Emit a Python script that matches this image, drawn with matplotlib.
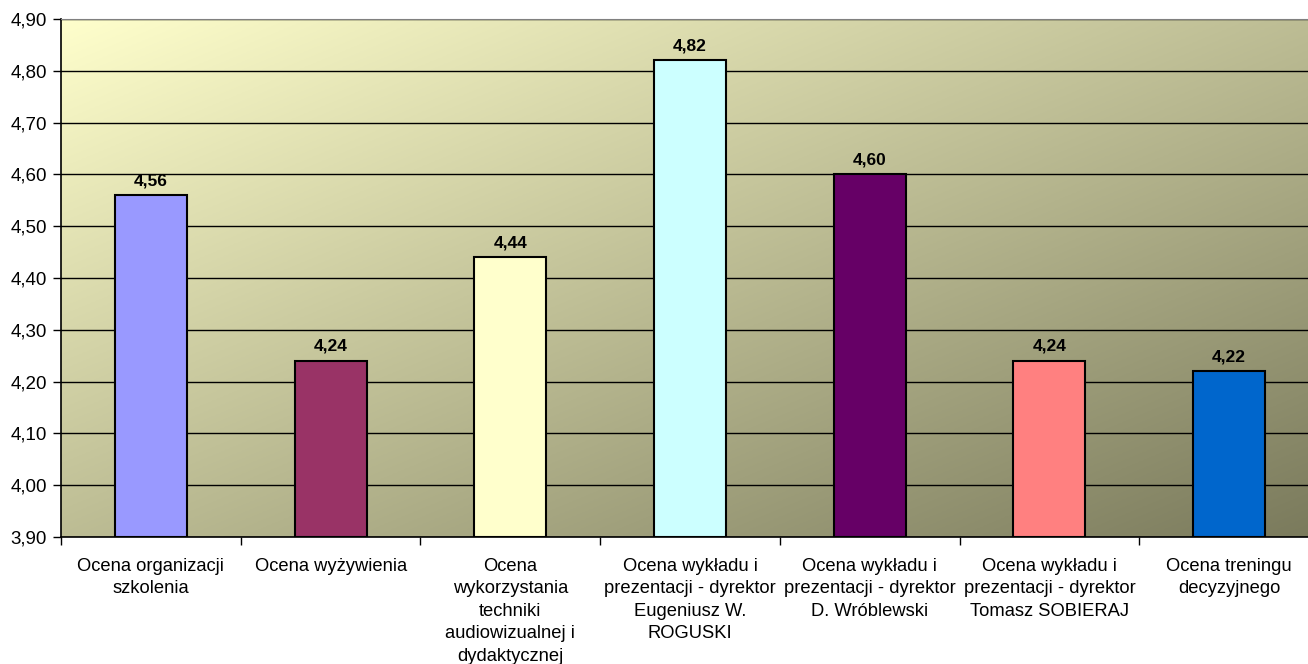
import numpy as np
import matplotlib.pyplot as plt
from matplotlib.ticker import FixedLocator, FuncFormatter

plt.rcParams['font.family'] = ['Liberation Sans', 'DejaVu Sans']

categories = ['Ocena organizacji\nszkolenia',
              'Ocena wyżywienia',
              'Ocena\nwykorzystania\ntechniki\naudiowizualnej i\ndydaktycznej',
              'Ocena wykładu i\nprezentacji - dyrektor\nEugeniusz W.\nROGUSKI',
              'Ocena wykładu i\nprezentacji - dyrektor\nD. Wróblewski',
              'Ocena wykładu i\nprezentacji - dyrektor\nTomasz SOBIERAJ',
              'Ocena treningu\ndecyzyjnego']
values = [4.56, 4.24, 4.44, 4.82, 4.60, 4.24, 4.22]
colors = ['#9999FF', '#993366', '#FFFFCC', '#CCFFFF', '#660066', '#FF8080', '#0066CC']

fig = plt.figure(figsize=(13.08, 6.64), dpi=100)
# wykres jest przycięty z prawej strony, jak w oryginale
ax = fig.add_axes([61 / 1308, 127 / 664, 1258 / 1308, 518 / 664])

# tło z gradientem (lewy górny -> prawy dolny)
n = 300
gx, gy = np.meshgrid(np.linspace(0, 1, n), np.linspace(0, 1, n))
t = (gx + gy) / 2
c0 = np.array([255, 255, 204]) / 255
c1 = np.array([122, 122, 92]) / 255
img = c0[None, None, :] * (1 - t[..., None]) + c1[None, None, :] * t[..., None]
ax.imshow(img, extent=[0, 1, 0, 1], origin='upper', transform=ax.transAxes,
          aspect='auto', zorder=0)

x = np.arange(len(values))
ax.bar(x, np.array(values) - 3.9, 0.4, bottom=3.9, color=colors,
       edgecolor='black', linewidth=1.5, zorder=3)

for a, b in zip(x, values):
    ax.annotate(('%.2f' % b).replace('.', ','), (a, b), xytext=(0, 5),
                textcoords='offset points', ha='center', va='bottom',
                fontsize=12.5, fontweight='bold')

ax.set_xlim(-0.5, len(values) - 0.5)
ax.set_ylim(3.9, 4.9)
ax.set_yticks(np.arange(3.9, 4.91, 0.1))
ax.yaxis.set_major_formatter(FuncFormatter(lambda v, p: ('%.2f' % v).replace('.', ',')))
ax.grid(axis='y', color='black', linewidth=1, zorder=1)
ax.set_axisbelow(True)

ax.set_xticks(x)
ax.set_xticklabels(categories, fontsize=13.2, linespacing=1.42)
ax.xaxis.set_minor_locator(FixedLocator(np.arange(-0.5, len(values), 1)))
ax.tick_params(axis='x', which='major', length=0, pad=15)
ax.tick_params(axis='x', which='minor', length=6, width=1, direction='out')
ax.tick_params(axis='y', length=6, width=1, direction='out', labelsize=13.5, pad=4)

ax.spines['left'].set_linewidth(1.2)
ax.spines['bottom'].set_linewidth(1.2)
ax.spines['top'].set_color('#808080')
ax.spines['right'].set_visible(False)

fig.savefig('out.png', dpi=100)
